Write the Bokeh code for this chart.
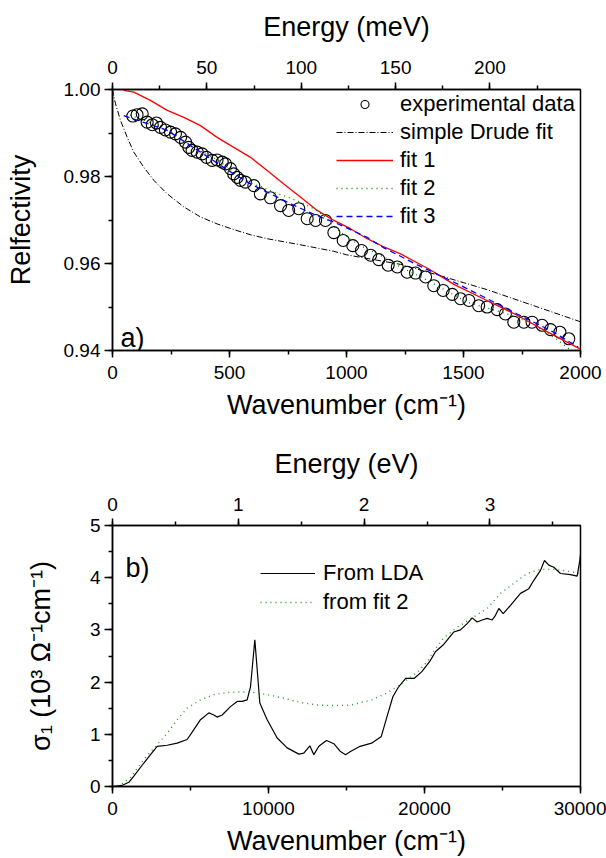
from bokeh.plotting import figure
from bokeh.models import (Range1d, LinearAxis, SingleIntervalTicker, NumeralTickFormatter,
                          Legend, LegendItem, Label)
from bokeh.layouts import column
from bokeh.embed import file_html
from bokeh.resources import INLINE

FONT = "Liberation Sans"

# ---------------- Panel a data ----------------
exp_wn = [87, 105, 127, 148, 170, 188, 205, 226, 248, 269, 291, 312, 326, 340, 362, 383, 402, 426, 447,
          469, 483, 504, 518, 533, 547, 568, 604, 632, 675, 718, 753, 796, 832, 868, 910, 946, 986,
          1027, 1064, 1103, 1138, 1178, 1217, 1259, 1295, 1338, 1373, 1413, 1452, 1487, 1523, 1565,
          1601, 1644, 1679, 1715, 1758, 1793, 1836, 1872, 1912, 1950]
exp_R = [0.9939, 0.9942, 0.9944, 0.9925, 0.9919, 0.9923, 0.9913, 0.9907, 0.9902, 0.9898, 0.9890,
         0.9879, 0.9867, 0.9860, 0.9856, 0.9852, 0.9844, 0.9837, 0.9838, 0.9833, 0.9829, 0.9818,
         0.9806, 0.9798, 0.9791, 0.9787, 0.9779, 0.9760, 0.9751, 0.9733, 0.9722, 0.9726, 0.9703,
         0.9699, 0.9699, 0.9671, 0.9653, 0.9641, 0.9630, 0.9619, 0.9609, 0.9596, 0.9592, 0.9580,
         0.9578, 0.9569, 0.9549, 0.9538, 0.9529, 0.9519, 0.9515, 0.9503, 0.9500, 0.9494, 0.9484,
         0.9465, 0.9465, 0.9465, 0.9458, 0.9448, 0.9442, 0.9427]

drude_wn = [0, 5, 13, 34, 63, 91, 134, 177, 234, 305, 376, 447, 518, 590, 661, 803, 946, 1000,
            1231, 1400, 1600, 1800, 2000]
drude_R = [1.0, 0.9985, 0.9967, 0.9929, 0.9890, 0.9856, 0.9821, 0.9791, 0.9760, 0.9730, 0.9707,
           0.9691, 0.9678, 0.9666, 0.9657, 0.9643, 0.9628, 0.9620, 0.9598, 0.9572, 0.9540, 0.9503,
           0.9466]

fit1_wn = [48, 91, 162, 234, 305, 376, 447, 518, 590, 661, 732, 803, 875, 946, 1017, 1088, 1160,
           1231, 1350, 1459, 1600, 1729, 1850, 2000]
fit1_R = [0.9998, 0.9994, 0.9975, 0.9952, 0.9936, 0.9917, 0.9890, 0.9867, 0.9844, 0.9814, 0.9783,
          0.9753, 0.9722, 0.9699, 0.9680, 0.9657, 0.9638, 0.9622, 0.9588, 0.9552, 0.9515, 0.9481,
          0.9445, 0.9403]

fit2_wn = [75, 150, 250, 350, 450, 550, 604, 632, 689, 746, 803, 860, 903, 946, 1003, 1060, 1117,
           1174, 1231, 1350, 1516, 1600, 1729, 1800, 1900, 1960]
fit2_R = [0.9941, 0.9926, 0.9902, 0.9865, 0.9838, 0.9797, 0.9782, 0.9777, 0.9764, 0.9753, 0.9741,
          0.9726, 0.9710, 0.9684, 0.9661, 0.9641, 0.9626, 0.9611, 0.9592, 0.9560, 0.9511, 0.9498,
          0.9477, 0.9460, 0.9425, 0.9400]

fit3_wn = [48, 234, 376, 518, 590, 661, 732, 803, 875, 946, 1017, 1088, 1160, 1302, 1444, 1587,
           1729, 1872, 1990]
fit3_R = [0.9940, 0.9906, 0.9856, 0.9806, 0.9783, 0.9764, 0.9745, 0.9727, 0.9710, 0.9695, 0.9678,
          0.9660, 0.9636, 0.9597, 0.9561, 0.9523, 0.9484, 0.9446, 0.9408]

# ---------------- Panel b data ----------------
lda_wn = [0, 600, 1047, 1368, 2009, 2436, 2863, 3504, 4145, 4786, 5214, 5641, 6175, 6496, 6709,
          7030, 7564, 7991, 8312, 8632, 8846, 9124, 9444, 9915, 10556, 11197, 11944, 12265, 12650,
          12906, 13226, 13718, 14188, 14615, 14936, 15256, 15865, 16609, 17231, 17597, 17972,
          18342, 18790, 19334, 19829, 20326, 20699, 21193, 21880, 22308, 22735, 23056, 23376,
          23697, 24017, 24338, 24551, 24765, 25047, 25513, 26154, 26688, 27009, 27436, 27692,
          27970, 28291, 28718, 29359, 29786, 29957, 30000]
lda_s = [0, 0.02, 0.08, 0.2, 0.45, 0.61, 0.77, 0.79, 0.83, 0.90, 1.09, 1.28, 1.41, 1.37, 1.33,
         1.37, 1.53, 1.63, 1.63, 1.66, 1.91, 2.81, 1.60, 1.28, 0.93, 0.74, 0.62, 0.64, 0.78, 0.61,
         0.77, 0.88, 0.82, 0.67, 0.61, 0.67, 0.77, 0.83, 0.96, 1.34, 1.72, 1.91, 2.07, 2.07, 2.20,
         2.39, 2.58, 2.71, 2.96, 3.0, 3.12, 3.23, 3.15, 3.19, 3.22, 3.19, 3.28, 3.41, 3.31, 3.47,
         3.70, 3.79, 3.95, 4.14, 4.33, 4.24, 4.20, 4.08, 4.06, 4.03, 4.33, 4.45]

g2_wn = [0, 500, 1154, 2009, 2863, 3504, 4145, 4786, 5641, 6496, 7350, 7991, 8846, 9915, 10983,
         12051, 13120, 14188, 15256, 16609, 17597, 18590, 19581, 20200, 20600, 21239, 22094, 23162,
         24017, 24872, 25726, 26581, 27436, 28291, 29145, 29957]
g2_s = [0, 0.03, 0.17, 0.52, 0.80, 1.02, 1.28, 1.50, 1.66, 1.76, 1.80, 1.81, 1.81, 1.76, 1.69,
        1.61, 1.56, 1.55, 1.56, 1.66, 1.79, 1.98, 2.20, 2.40, 2.60, 2.85, 3.05, 3.25, 3.41, 3.70,
        3.89, 4.08, 4.16, 4.16, 4.13, 4.08]

MEV_PER_CM = 0.12398419
EV_PER_CM = 0.00012398419


def style_axis(ax):
    ax.major_label_text_font = FONT
    ax.major_label_text_font_size = "19px"
    ax.major_label_text_color = "black"
    ax.axis_label_text_font = FONT
    ax.axis_label_text_font_size = "27px"
    ax.axis_label_text_font_style = "normal"
    ax.axis_label_text_color = "black"
    ax.axis_line_width = 1.5
    ax.axis_line_color = "black"
    ax.major_tick_line_width = 1.5
    ax.minor_tick_line_width = 1.5
    ax.major_tick_line_color = "black"
    ax.minor_tick_line_color = "black"
    ax.major_tick_in = 0
    ax.major_tick_out = 7
    ax.minor_tick_in = 0
    ax.minor_tick_out = 4


def style_legend(lg, spacing):
    lg.background_fill_alpha = 0
    lg.border_line_alpha = 0
    lg.label_text_font = FONT
    lg.label_text_font_size = "22px"
    lg.label_text_color = "black"
    lg.glyph_height = 20
    lg.label_height = 20
    lg.spacing = spacing
    lg.padding = 4
    lg.margin = 0


def base_fig(height, top, bottom, xr, yr):
    p = figure(width=606, height=height, x_range=xr, y_range=yr,
               output_backend="svg", toolbar_location=None,
               min_border_left=112, min_border_right=26,
               min_border_top=top, min_border_bottom=bottom)
    p.xgrid.visible = False
    p.ygrid.visible = False
    p.outline_line_color = "black"
    p.outline_line_width = 1.5
    p.outline_line_alpha = 1.0
    p.background_fill_color = "white"
    p.border_fill_color = "white"
    return p


# ================= Panel a =================
p1 = base_fig(440, 89, 90, Range1d(0, 2000), Range1d(0.94, 1.00))
p1.extra_x_ranges = {"meV": Range1d(0, 2000 * MEV_PER_CM)}

r_exp = p1.scatter(exp_wn, exp_R, marker="circle", size=12, fill_alpha=0,
                   line_color="black", line_width=1.1)
r_dr = p1.line(drude_wn, drude_R, line_color="black", line_width=1, line_dash="6 2 1 2")
r_f1 = p1.line(fit1_wn, fit1_R, line_color="#ff0000", line_width=1.3)
r_f2 = p1.line(fit2_wn, fit2_R, line_color="#008000", line_width=1.3, line_dash="1 4")
r_f3 = p1.line(fit3_wn, fit3_R, line_color="#0000ff", line_width=1.3, line_dash="6 4")

xa = p1.xaxis[0]
xa.ticker = SingleIntervalTicker(interval=500, num_minor_ticks=2)
xa.formatter = NumeralTickFormatter(format="0")
xa.axis_label = "Wavenumber (cm⁻¹)"
style_axis(xa)
xa.major_label_standoff = 8
xa.axis_label_standoff = 8

ya = p1.yaxis[0]
ya.ticker = SingleIntervalTicker(interval=0.02, num_minor_ticks=2)
ya.formatter = NumeralTickFormatter(format="0.00")
ya.axis_label = "Relfectivity"
style_axis(ya)
ya.major_tick_out = 8
ya.major_label_standoff = 4
ya.axis_label_standoff = 25

ta = LinearAxis(x_range_name="meV", axis_label="Energy (meV)",
                ticker=SingleIntervalTicker(interval=50, num_minor_ticks=2),
                formatter=NumeralTickFormatter(format="0"))
style_axis(ta)
ta.major_label_standoff = 9
ta.axis_label_standoff = 16
p1.add_layout(ta, "above")

leg1 = Legend(items=[
    LegendItem(label="experimental data", renderers=[r_exp]),
    LegendItem(label="simple Drude fit", renderers=[r_dr]),
    LegendItem(label="fit 1", renderers=[r_f1]),
    LegendItem(label="fit 2", renderers=[r_f2]),
    LegendItem(label="fit 3", renderers=[r_f3]),
], location=(220, 117))
style_legend(leg1, 2)
leg1.glyph_width = 57
leg1.label_standoff = 7
p1.add_layout(leg1)

p1.add_layout(Label(x=34, y=0.9428, text="a)", text_font=FONT, text_font_size="27px",
                    text_baseline="alphabetic", text_color="black"))

# ================= Panel b =================
p2 = base_fig(418, 85, 71, Range1d(0, 30000), Range1d(0, 5))
p2.extra_x_ranges = {"eV": Range1d(0, 30000 * EV_PER_CM)}

r_lda = p2.line(lda_wn, lda_s, line_color="black", line_width=1.2)
r_g2 = p2.line(g2_wn, g2_s, line_color="#1f9a1f", line_width=1.4, line_dash="1 4")

xb = p2.xaxis[0]
xb.ticker = SingleIntervalTicker(interval=10000, num_minor_ticks=2)
xb.formatter = NumeralTickFormatter(format="0")
xb.axis_label = "Wavenumber (cm⁻¹)"
style_axis(xb)
xb.major_label_standoff = 8
xb.axis_label_standoff = 8

yb = p2.yaxis[0]
yb.ticker = SingleIntervalTicker(interval=1, num_minor_ticks=2)
yb.formatter = NumeralTickFormatter(format="0")
yb.axis_label = "σ₁ (10³ Ω⁻¹cm⁻¹)"
style_axis(yb)
yb.major_tick_out = 8
yb.major_label_standoff = 4
yb.axis_label_standoff = 31

tb = LinearAxis(x_range_name="eV", axis_label="Energy (eV)",
                ticker=SingleIntervalTicker(interval=1, num_minor_ticks=2),
                formatter=NumeralTickFormatter(format="0"))
style_axis(tb)
tb.major_label_standoff = 8
tb.axis_label_standoff = 16
p2.add_layout(tb, "above")

leg2 = Legend(items=[
    LegendItem(label="From LDA", renderers=[r_lda]),
    LegendItem(label="from fit 2", renderers=[r_g2]),
], location=(144, 167))
style_legend(leg2, 3)
leg2.glyph_width = 55
leg2.label_standoff = 8
p2.add_layout(leg2)

p2.add_layout(Label(x=833, y=4.18, text="b)", text_font=FONT, text_font_size="27px",
                    text_baseline="alphabetic", text_color="black"))

layout = column(p1, p2, spacing=0)
open("out.html", "w").write(file_html(layout, INLINE))
